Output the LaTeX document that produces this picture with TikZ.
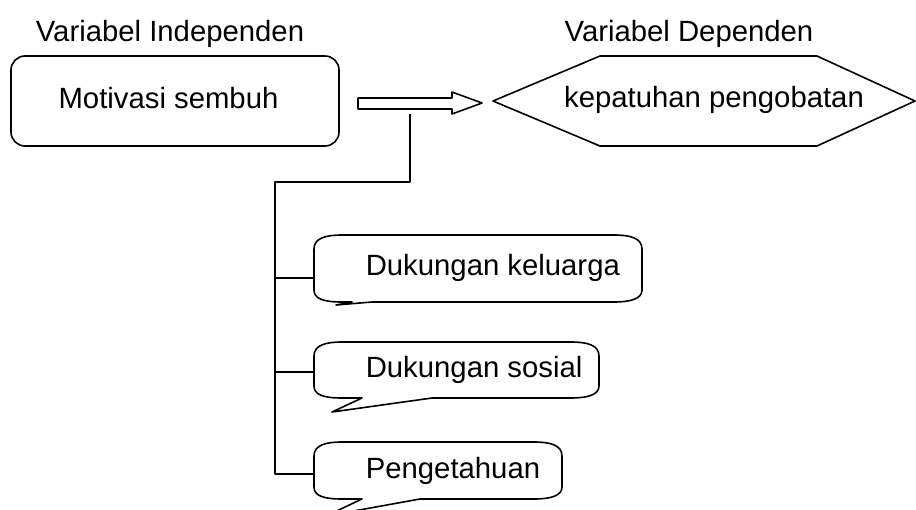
\documentclass[tikz,border=0pt]{standalone}
\usepackage{fontspec}
\setmainfont{Liberation Sans}
\begin{document}
\begin{tikzpicture}[x=1pt,y=-1pt,
  line width=1.6pt, line join=round,
  headtxt/.style={inner sep=0pt, anchor=base, font=\fontsize{29.3}{33}\selectfont},
  boxtxt/.style={inner sep=0pt, anchor=base, font=\fontsize{29.3}{33}\selectfont},
  calltxt/.style={inner sep=0pt, anchor=base west, font=\fontsize{29.3}{33}\selectfont},
  shapeline/.style={draw=black, fill=white, line width=1.6pt}]
\useasboundingbox (0,0) rectangle (916,509);
\clip (0,0) rectangle (916,509);

% headings
\node[headtxt] (hind) at (170,41) {Variabel Independen};
\node[headtxt] (hdep) at (689,41) {Variabel Dependen};

% independent box
\node[shapeline, rounded corners=14pt, minimum width=328pt, minimum height=90pt, inner sep=0pt] (mot) at (175,101) {};
\node[boxtxt] (motT) at (168.5,108) {Motivasi sembuh};

% block arrow
\draw[shapeline] (358,98) -- (452,98) -- (452,92) -- (482,103) -- (452,114) -- (452,109) -- (358,109) -- cycle;

% hexagon
\draw[shapeline] (493,101) -- (600,56) -- (817,56) -- (915,101) -- (817,146) -- (600,146) -- cycle;
\node[boxtxt] (dep) at (714,107) {kepatuhan pengobatan};

% callouts
\newcommand{\mycallout}[8]{%
  \draw[shapeline] (#1,#2+14) .. controls (#1,#2+3) and (#1+12,#2) .. (#1+28,#2)
    -- (#3-28,#2) .. controls (#3-12,#2) and (#3,#2+3) .. (#3,#2+14)
    -- (#3,#4-12) .. controls (#3,#4-3) and (#3-12,#4) .. (#3-28,#4)
    -- (#8,#4) -- (#5,#6) -- (#7,#4)
    -- (#1+28,#4) .. controls (#1+10,#4) and (#1,#4-3) .. (#1,#4-12) -- cycle;}

\mycallout{314}{235}{642}{302}{336}{305}{352}{372}
\mycallout{314}{342}{599}{398}{332}{412}{362}{432}
\mycallout{314}{442}{562}{499}{326}{516}{362}{420}

\node[calltxt] (c1T) at (365,275) {Dukungan keluarga};
\node[calltxt] (c2T) at (365,377) {Dukungan sosial};
\node[calltxt] (c3T) at (365,478) {Pengetahuan};

% connector tree
\coordinate (j0) at (410,114);
\coordinate (t0) at (275,182);
\coordinate (t1) at (275,278);
\coordinate (t2) at (275,372);
\coordinate (t3) at (275,474);
\coordinate (p1) at (314,278);
\coordinate (p2) at (314,372);
\coordinate (p3) at (314,474);
\draw[line width=1.6pt] (j0) |- (t0) -- (t3) -- (p3);
\draw[line width=1.6pt] (t1) -- (p1);
\draw[line width=1.6pt] (t2) -- (p2);
\end{tikzpicture}
\end{document}
